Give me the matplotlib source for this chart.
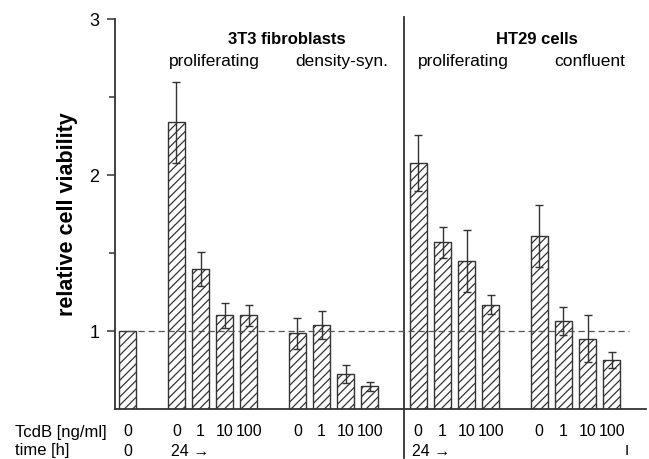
import matplotlib
matplotlib.use("Agg")
import matplotlib.pyplot as plt
import matplotlib.transforms as mtransforms

plt.rcParams['font.family'] = ['Liberation Sans', 'DejaVu Sans']
plt.rcParams['hatch.linewidth'] = 0.9

# data
control_val = [1.0]
fib_prolif = [2.34, 1.40, 1.10, 1.10]
fib_prolif_err = [0.26, 0.11, 0.08, 0.07]
fib_dens = [0.985, 1.04, 0.725, 0.645]
fib_dens_err = [0.10, 0.09, 0.06, 0.03]
ht_prolif = [2.08, 1.57, 1.45, 1.17]
ht_prolif_err = [0.18, 0.10, 0.20, 0.06]
ht_confl = [1.61, 1.065, 0.95, 0.815]
ht_confl_err = [0.20, 0.09, 0.15, 0.05]
doses = ['0', '1', '10', '100']

groups = [(control_val, [0.0], ['0']),
          (fib_prolif, fib_prolif_err, doses),
          (fib_dens, fib_dens_err, doses),
          (ht_prolif, ht_prolif_err, doses),
          (ht_confl, ht_confl_err, doses)]

# lay the groups out with one empty slot between them
xs, vals, errs, labs, starts = [], [], [], [], []
pos = 0
for v, e, l in groups:
    starts.append(pos)
    xs += list(range(pos, pos + len(v)))
    vals += v
    errs += e
    labs += l
    pos += len(v) + 1

fig = plt.figure(figsize=(6.49, 4.59), dpi=100)
ax = fig.add_axes([0.177, 0.109, 0.818, 0.849])

dark = '#333333'
trans = mtransforms.blended_transform_factory(ax.transData, ax.transAxes)

ax.bar(xs, vals, width=0.7, color='white', edgecolor=dark,
       linewidth=1.0, hatch='////', zorder=2)
ax.errorbar(xs[1:], vals[1:], yerr=errs[1:], fmt='none', ecolor=dark,
            elinewidth=1.0, capsize=2.6, capthick=1.0, zorder=4)
for x, lab in zip(xs, labs):
    ax.text(x, -0.059, lab, transform=trans, ha='center', va='center',
            fontsize=11.5, clip_on=False)

ax.hlines(1, 0, 20.7, colors='#555555', linestyles=(0, (5, 3)),
          linewidth=0.9, zorder=3)

# divider between cell lines
ax.plot([11.4, 11.4], [-0.125, 1.005], transform=trans, color=dark,
        linewidth=1.3, clip_on=False)

# time row
ax.text(starts[0], -0.108, '0', transform=trans, ha='center', va='center',
        fontsize=11.5, clip_on=False)
ax.text(starts[1] - 0.2, -0.108, '24 \u2192', transform=trans, ha='left',
        va='center', fontsize=11.5, clip_on=False)
ax.text(starts[3] - 0.26, -0.108, '24 \u2192', transform=trans, ha='left',
        va='center', fontsize=11.5, clip_on=False)
ax.text(20.6, -0.108, 'I', transform=trans, ha='center', va='center',
        fontsize=11, clip_on=False)
fig.text(0.023, 1 - 432 / 459, 'TcdB [ng/ml]', ha='left', va='center',
         fontsize=12)
fig.text(0.023, 1 - 451 / 459, 'time [h]', ha='left', va='center',
         fontsize=12)

# group headings
ax.text(6.55, 2.872, '3T3 fibroblasts', ha='center', va='center',
        fontsize=12, fontweight='bold')
ax.text(3.58, 2.727, 'proliferating', ha='center', va='center', fontsize=12.5)
ax.text(8.84, 2.727, 'density-syn.', ha='center', va='center', fontsize=12.5)
ax.text(16.88, 2.872, 'HT29 cells', ha='center', va='center',
        fontsize=12, fontweight='bold')
ax.text(13.87, 2.727, 'proliferating', ha='center', va='center', fontsize=12.5)
ax.text(19.1, 2.727, 'confluent', ha='center', va='center', fontsize=12.5)

ax.set_xlim(-0.54, 21.4)
ax.set_ylim(0.5, 3)
ax.set_yticks([1, 2, 3])
ax.set_yticks([1.5, 2.5], minor=True)
ax.set_xticks([])
ax.tick_params(axis='y', which='major', length=6, width=1.1, labelsize=13,
               pad=5, color=dark)
ax.tick_params(axis='y', which='minor', length=4, width=1.1, color=dark)
for s in ['top', 'right']:
    ax.spines[s].set_visible(False)
for s in ['left', 'bottom']:
    ax.spines[s].set_linewidth(1.3)
    ax.spines[s].set_color(dark)

ax.set_ylabel('relative cell viability', fontsize=15.5, fontweight='bold',
              labelpad=8)

fig.savefig('out.png', dpi=100)
